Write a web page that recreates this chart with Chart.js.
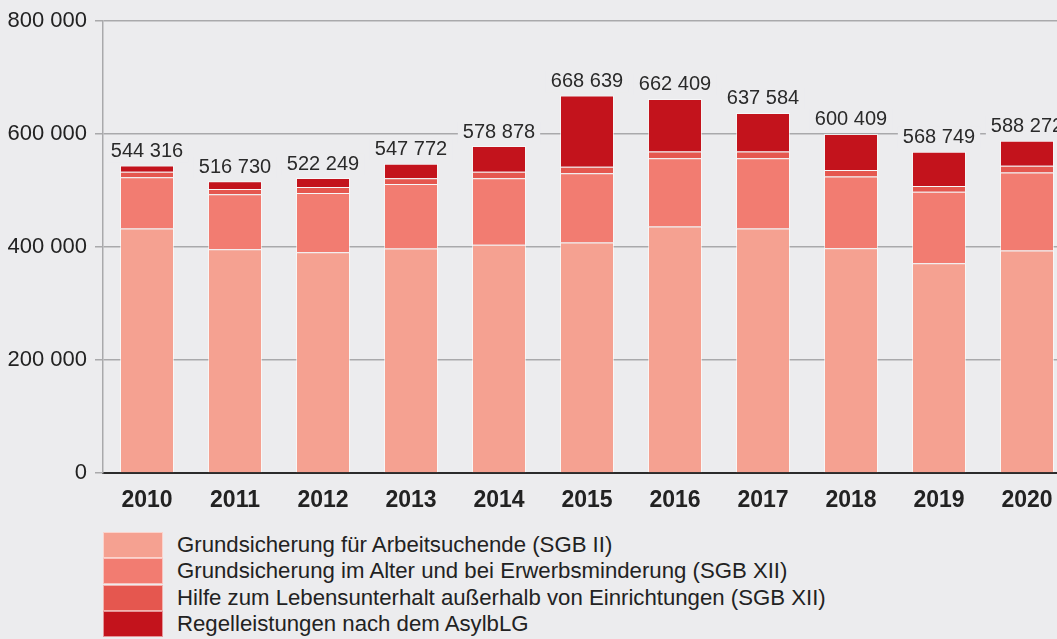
<!DOCTYPE html>
<html lang="de">
<head>
    <meta charset="UTF-8">
    <title>Leistungsempfänger 2010–2020</title>
    <style>
        html, body {
            margin: 0;
            padding: 0;
            width: 1057px;
            height: 639px;
            overflow: hidden;
            background: #ececee;
            font-family: "Liberation Sans", Arial, sans-serif;
            color: #222;
        }
        #chartBox {
            position: absolute;
            left: 0;
            top: 0;
            width: 1071px;
            height: 520px;
        }
        #legend {
            position: absolute;
            left: 103px;
            top: 532px;
        }
        .legend-row {
            display: flex;
            align-items: center;
            height: 26.3px;
        }
        .legend-box {
            width: 60px;
            height: 26px;
            box-sizing: border-box;
            border: 1px solid rgba(255, 255, 255, 0.55);
        }
        .legend-text {
            margin-left: 14px;
            font-size: 22.2px;
            color: #222;
            white-space: nowrap;
        }
    </style>
    <script src="https://cdn.jsdelivr.net/npm/chart.js"></script>
</head>
<body>
    <div id="chartBox"><canvas id="chart"></canvas></div>
    <div id="legend"></div>

    <script>
        // Daten
        const years = ['2010', '2011', '2012', '2013', '2014', '2015', '2016', '2017', '2018', '2019', '2020'];
        const sgb2 = [433000, 396000, 390800, 397300, 404300, 408300, 436400, 432900, 397800, 371500, 393800];
        const sgb12Alter = [90600, 97800, 105200, 114500, 117500, 122300, 121000, 124500, 127000, 126300, 138500];
        const sgb12Hilfe = [10000, 9200, 10600, 10000, 11800, 11700, 11800, 11800, 11600, 10500, 11800];
        const asylblg = [10716, 13730, 15649, 25972, 45278, 126339, 93209, 68384, 64009, 60449, 44172];
        const totals = [544316, 516730, 522249, 547772, 578878, 668639, 662409, 637584, 600409, 568749, 588272];
        const yTicks = [0, 200000, 400000, 600000, 800000];

        const seriesNames = [
            'Grundsicherung für Arbeitsuchende (SGB II)',
            'Grundsicherung im Alter und bei Erwerbsminderung (SGB XII)',
            'Hilfe zum Lebensunterhalt außerhalb von Einrichtungen (SGB XII)',
            'Regelleistungen nach dem AsylbLG'
        ];
        const seriesColors = ['#f5a191', '#f27c71', '#e5574f', '#c3131c'];
        const seriesData = [sgb2, sgb12Alter, sgb12Hilfe, asylblg];

        const bg = '#ececee';
        const fontFamily = '"Liberation Sans", Arial, sans-serif';

        function fmt(v) {
            return String(v).replace(/\B(?=(\d{3})+(?!\d))/g, ' ');
        }

        // Summen über den Balken
        const totalLabels = {
            id: 'totalLabels',
            afterDatasetsDraw(chart) {
                const ctx = chart.ctx;
                const meta = chart.getDatasetMeta(chart.data.datasets.length - 1);
                ctx.save();
                ctx.font = '20px ' + fontFamily;
                ctx.textAlign = 'center';
                ctx.textBaseline = 'middle';
                meta.data.forEach((bar, i) => {
                    const text = fmt(totals[i]);
                    const y = bar.y - 14;
                    const w = ctx.measureText(text).width;
                    ctx.fillStyle = bg;
                    ctx.fillRect(bar.x - w / 2 - 5, y - 11, w + 10, 22);
                    ctx.fillStyle = '#2a2a2a';
                    ctx.fillText(text, bar.x, y);
                });
                ctx.restore();
            }
        };

        new Chart(document.getElementById('chart'), {
            type: 'bar',
            data: {
                labels: years,
                datasets: seriesData.map((d, i) => ({
                    label: seriesNames[i],
                    data: d,
                    backgroundColor: seriesColors[i],
                    borderColor: 'rgba(255, 255, 255, 0.6)',
                    borderWidth: 1,
                    barPercentage: 0.614,
                    categoryPercentage: 1.0
                }))
            },
            options: {
                responsive: true,
                maintainAspectRatio: false,
                animation: false,
                layout: { padding: { top: 16.5, bottom: 9, left: 0, right: 0 } },
                plugins: {
                    legend: { display: false },
                    tooltip: { enabled: false }
                },
                scales: {
                    x: {
                        stacked: true,
                        afterFit(scale) { scale.height = 38; },
                        grid: { display: false, drawTicks: false },
                        border: { display: true, color: '#2b2b2b', width: 2 },
                        ticks: {
                            padding: 14,
                            color: '#222',
                            font: { family: fontFamily, size: 23, weight: 'bold' }
                        }
                    },
                    y: {
                        stacked: true,
                        min: 0,
                        max: 800000,
                        afterFit(scale) { scale.width = 103; },
                        afterBuildTicks(scale) { scale.ticks = yTicks.map(v => ({ value: v })); },
                        grid: {
                            color: '#a9a9ab',
                            lineWidth: 1.5,
                            tickLength: 8
                        },
                        border: { display: true, color: '#a9a9ab', width: 1.5 },
                        ticks: {
                            padding: 8,
                            color: '#222',
                            font: { family: fontFamily, size: 22 },
                            callback: v => fmt(v)
                        }
                    }
                }
            },
            plugins: [totalLabels]
        });

        // Legende
        const legend = document.getElementById('legend');
        legend.innerHTML = seriesNames.map((name, i) =>
            `<div class="legend-row"><div class="legend-box" style="background:${seriesColors[i]}"></div><span class="legend-text">${name}</span></div>`
        ).join('');
    </script>
</body>
</html>
